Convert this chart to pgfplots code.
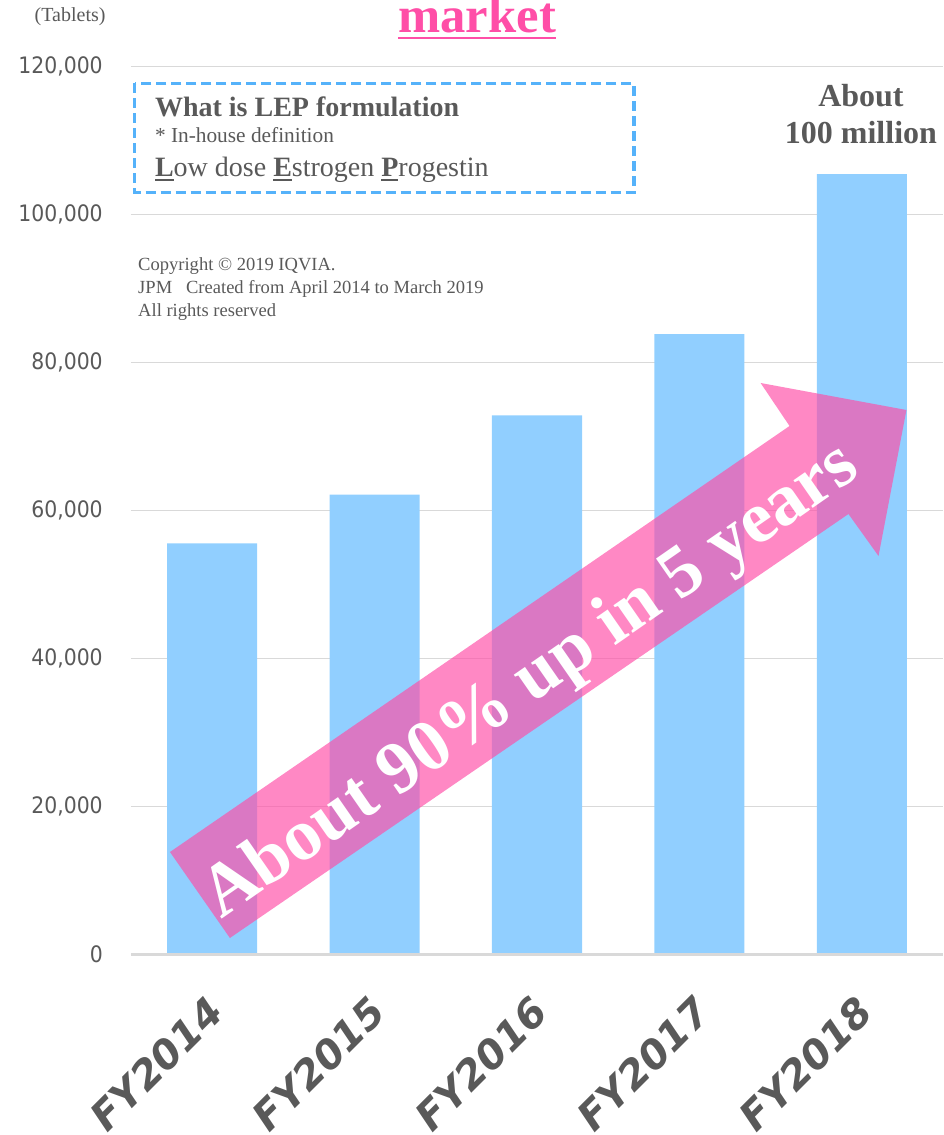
\documentclass[border=0pt]{standalone}
\usepackage{fontspec}
\setmainfont{Liberation Serif}
\newfontfamily\tickfont[FakeStretch=0.9]{DejaVu Sans}
\newfontfamily\xlabfont{DejaVu Sans}
\usepackage{pgfplots}
\pgfplotsset{compat=1.18}
\definecolor{barblue}{RGB}{145,207,255}
\definecolor{lepink}{RGB}{255,78,167}
\definecolor{boxblue}{RGB}{85,178,250}
\definecolor{txtgray}{RGB}{89,89,89}
\definecolor{gridgray}{RGB}{217,217,217}
\newsavebox\ubfbox
\newcommand\ubf[1]{\sbox\ubfbox{\bfseries #1}\rlap{\rule[-3.6pt]{\wd\ubfbox}{1.6pt}}\usebox\ubfbox}
\begin{document}
\begin{tikzpicture}
\begin{axis}[
  at={(0pt,0pt)}, anchor=south west,
  scale only axis, width=609pt, height=666pt,
  xmin=-0.5, xmax=4.5, ymin=0, ymax=120000,
  axis line style={draw=none},
  tick style={draw=none},
  scaled y ticks=false,
  ytick={0,20000,40000,60000,80000,100000,120000},
  yticklabels={0,{20,000},{40,000},{60,000},{80,000},{100,000},{120,000}},
  ymajorgrids, major grid style={draw=gridgray, line width=1.1pt},
  xtick={0,1,2,3,4},
  xticklabels={FY2014,FY2015,FY2016,FY2017,FY2018},
  yticklabel style={font=\tickfont\fontsize{17}{17}\selectfont, text=txtgray, anchor=east, inner sep=0pt, xshift=-21pt},
  xticklabel style={font=\xlabfont\bfseries\itshape\fontsize{30}{30}\selectfont, text=txtgray,
    xshift=-5.5pt, yshift=-29.5pt, rotate=45, anchor=north east, inner sep=0pt},
  clip=false,
]
\addplot[ybar, bar width=67.5pt, fill=barblue, draw=none] coordinates {(0,55550) (1,62160) (2,72850) (3,83850) (4,105470)};
\draw[gridgray, line width=1.7pt] (axis cs:-0.5,0) -- (axis cs:4.5,0);
% arrow
\fill[lepink, fill opacity=0.67] (axis cs:-0.260,13851) -- (axis cs:3.555,71419) -- (axis cs:3.377,77230) -- (axis cs:4.275,73581) -- (axis cs:4.103,53851) -- (axis cs:3.918,59527) -- (axis cs:0.109,2230) -- cycle;
\node[rotate=34.8, anchor=base, inner sep=0pt, text=white, font=\bfseries\fontsize{55}{55}\selectfont] at (axis cs:2.03,34800) {About 90\% up in 5 years};
% box
\draw[boxblue, line width=2.5pt, dash pattern=on 7.5pt off 3.75pt] (axis cs:-0.478,117703) rectangle (axis cs:2.598,102986);
\node[anchor=base west, inner sep=0pt, text=txtgray, font=\bfseries\fontsize{21}{21}\selectfont] at (axis cs:-0.3535,113270) {What is LEP formulation};
\node[anchor=base west, inner sep=0pt, text=txtgray, font=\fontsize{16}{16}\selectfont] at (axis cs:-0.3535,109716) {* In-house definition};
\node[anchor=base west, inner sep=0pt, text=txtgray, font=\fontsize{21}{21}\selectfont] at (axis cs:-0.3535,105149) {\ubf{L}ow dose \ubf{E}strogen \ubf{P}rogestin};
% copyright
\node[anchor=base west, inner sep=0pt, text=txtgray, font=\fontsize{13.9}{13.9}\selectfont] at (axis cs:-0.457,92405) {Copyright \textcopyright{} 2019 IQVIA.};
\node[anchor=base west, inner sep=0pt, text=txtgray, font=\fontsize{13.9}{13.9}\selectfont] at (axis cs:-0.457,89351) {JPM\ \ \ Created from April 2014 to March 2019};
\node[anchor=base west, inner sep=0pt, text=txtgray, font=\fontsize{13.9}{13.9}\selectfont] at (axis cs:-0.457,86189) {All rights reserved};
% about 100 million
\node[anchor=base, inner sep=0pt, text=txtgray, font=\bfseries\fontsize{24}{24}\selectfont] at (axis cs:3.995,114568) {About};
\node[anchor=base, inner sep=0pt, text=txtgray, font=\bfseries\fontsize{24}{24}\selectfont] at (axis cs:3.995,109527) {100 million};
% top texts
\node[anchor=base, inner sep=0pt, text=txtgray, font=\fontsize{15}{15}\selectfont] at (axis cs:-0.875,126014) {(Tablets)};
\node[anchor=base, inner sep=0pt, text=lepink, font=\bfseries\fontsize{38}{38}\selectfont] (ttl) at (axis cs:1.632,124622) {market};
\draw[lepink, line width=2pt] ([yshift=-4.3pt]ttl.base west) -- ([yshift=-4.3pt]ttl.base east);
\end{axis}
\pgfresetboundingbox
\path[use as bounding box] (-98.25pt,-135.375pt) rectangle (609pt,715.875pt);
\end{tikzpicture}
\end{document}
